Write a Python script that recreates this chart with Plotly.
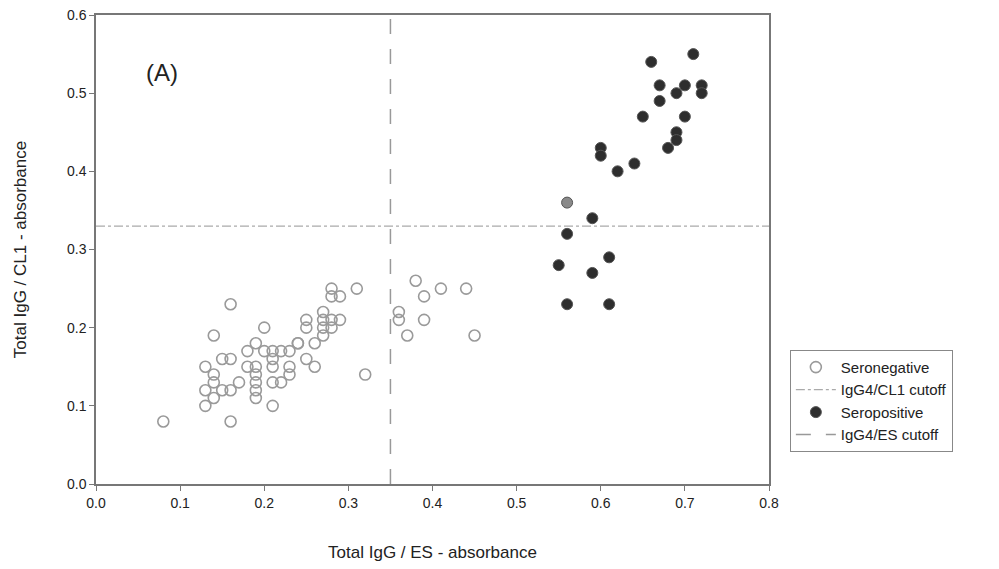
import plotly.graph_objects as go

# Seronegative (open circles)
neg_x = [0.08, 0.16, 0.16, 0.14, 0.20, 0.13, 0.13, 0.13, 0.14, 0.14, 0.14, 0.15, 0.16, 0.15, 0.16,
         0.17, 0.18, 0.19, 0.18, 0.19, 0.19, 0.19, 0.19, 0.19, 0.20, 0.21, 0.21, 0.21, 0.22, 0.21,
         0.22, 0.21, 0.23, 0.23, 0.23, 0.24, 0.25, 0.25, 0.27, 0.27, 0.28, 0.27, 0.26, 0.25, 0.26,
         0.28, 0.28, 0.29, 0.31, 0.29, 0.32, 0.38, 0.41, 0.44, 0.39, 0.36, 0.36, 0.39, 0.37, 0.45,
         0.28, 0.27, 0.24]
neg_y = [0.08, 0.08, 0.23, 0.19, 0.20, 0.15, 0.12, 0.10, 0.14, 0.13, 0.11, 0.16, 0.16, 0.12, 0.12,
         0.13, 0.17, 0.18, 0.15, 0.15, 0.14, 0.13, 0.12, 0.11, 0.17, 0.17, 0.16, 0.15, 0.17, 0.13,
         0.13, 0.10, 0.17, 0.15, 0.14, 0.18, 0.21, 0.20, 0.22, 0.21, 0.21, 0.19, 0.18, 0.16, 0.15,
         0.25, 0.24, 0.24, 0.25, 0.21, 0.14, 0.26, 0.25, 0.25, 0.24, 0.22, 0.21, 0.21, 0.19, 0.19,
         0.20, 0.20, 0.18]

# Seropositive (filled circles); last point is the lighter grey one
pos_x = [0.59, 0.56, 0.61, 0.55, 0.59, 0.56, 0.61, 0.71, 0.66, 0.67, 0.70, 0.72, 0.72,
         0.69, 0.67, 0.65, 0.70, 0.69, 0.69, 0.68, 0.60, 0.60, 0.64, 0.62, 0.56]
pos_y = [0.34, 0.32, 0.29, 0.28, 0.27, 0.23, 0.23, 0.55, 0.54, 0.51, 0.51, 0.51, 0.50,
         0.50, 0.49, 0.47, 0.47, 0.45, 0.44, 0.43, 0.43, 0.42, 0.41, 0.40, 0.36]
pos_colors = ["#2e2e2e"] * (len(pos_x) - 1) + ["#8a8a8a"]

cl1_cutoff = 0.33
es_cutoff = 0.35
x_range = [0.0, 0.8]
y_range = [0.0, 0.6]

fig = go.Figure()
fig.add_trace(go.Scatter(
    x=neg_x, y=neg_y, mode="markers", name="Seronegative",
    marker=dict(symbol="circle-open", size=11, color="#9a9a9a", line=dict(width=1.6, color="#9a9a9a")),
))
fig.add_trace(go.Scatter(
    x=x_range, y=[cl1_cutoff, cl1_cutoff], mode="lines", name="IgG4/CL1 cutoff",
    line=dict(color="#aaaaaa", width=1.3, dash="dashdot"),
))
fig.add_trace(go.Scatter(
    x=pos_x, y=pos_y, mode="markers", name="Seropositive",
    marker=dict(symbol="circle", size=11, color=pos_colors, line=dict(width=1, color="#555555")),
))
fig.add_trace(go.Scatter(
    x=[es_cutoff, es_cutoff], y=y_range, mode="lines", name="IgG4/ES cutoff",
    line=dict(color="#999999", width=1.5, dash="longdash"),
))

fig.add_annotation(x=0.078, y=0.526, xref="x", yref="y", text="(A)", showarrow=False,
                   font=dict(size=24, color="#222222", family="Liberation Sans, Arial"))

axis_font = dict(family="Liberation Sans, Arial", size=14, color="#222222")
fig.update_layout(
    width=999, height=569,
    margin=dict(l=96, r=230, t=15, b=85),
    plot_bgcolor="white", paper_bgcolor="white",
    font=dict(family="Liberation Sans, Arial", color="#222222"),
    showlegend=True,
    legend=dict(x=1.031, y=0.286, xanchor="left", yanchor="top",
                bordercolor="#888888", borderwidth=1, bgcolor="white",
                font=dict(size=15, color="#222222"), tracegroupgap=0,
                itemwidth=40),
    xaxis=dict(range=x_range, tickvals=[0, 0.1, 0.2, 0.3, 0.4, 0.5, 0.6, 0.7, 0.8],
               tickformat=".1f", ticks="outside", ticklen=5, tickcolor="#777777",
               showgrid=False, zeroline=False, showline=True, linecolor="#777777", linewidth=1.5,
               mirror=True, tickfont=axis_font, automargin=False,
               title=dict(text="Total IgG / ES - absorbance", font=dict(size=17, color="#222222"), standoff=37)),
    yaxis=dict(range=y_range, tickvals=[0, 0.1, 0.2, 0.3, 0.4, 0.5, 0.6],
               tickformat=".1f", ticks="outside", ticklen=5, tickcolor="#777777",
               showgrid=False, zeroline=False, showline=True, linecolor="#777777", linewidth=1.5,
               mirror=True, tickfont=axis_font, automargin=False,
               title=dict(text="Total IgG / CL1 - absorbance", font=dict(size=17, color="#222222"), standoff=36)),
)

fig.write_html("out.html")
